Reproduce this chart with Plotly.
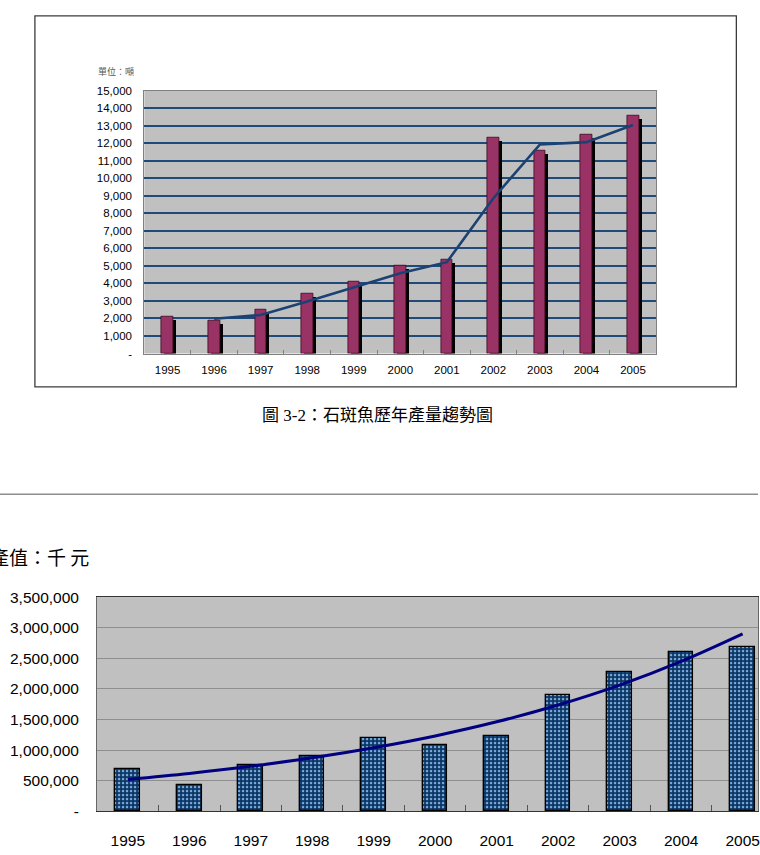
import plotly.graph_objects as go

W, H = 760, 855

def px(x):
    return x / W

def py(y):
    return 1 - y / H

# ---------------- data ----------------
years = ["1995", "1996", "1997", "1998", "1999", "2000", "2001", "2002", "2003", "2004", "2005"]

# Top chart: production (tonnes)
production = [2100, 1870, 2500, 3400, 4110, 5040, 5380, 12340, 11560, 12490, 13570]
trend_years = ["1996", "1997", "1998", "1999", "2000", "2001", "2002", "2003", "2004", "2005"]
production_trend = [1985, 2200, 2970, 3760, 4580, 5210, 8860, 11930, 12060, 13040]
prod_tickvals = [0, 1000, 2000, 3000, 4000, 5000, 6000, 7000, 8000, 9000, 10000,
                 11000, 12000, 13000, 14000, 15000]
prod_ticktext = ["-", "1,000", "2,000", "3,000", "4,000", "5,000", "6,000", "7,000",
                 "8,000", "9,000", "10,000", "11,000", "12,000", "13,000", "14,000", "15,000"]

# Bottom chart: production value (thousand NT$)
value = [699000, 427000, 752000, 903000, 1200000, 1083000, 1223000, 1900000,
         2273000, 2609000, 2689000]
value_trend = [523000, 621000, 737000, 875000, 1040000, 1233000, 1463000, 1737000,
               2062000, 2450000, 2900000]
val_tickvals = [0, 500000, 1000000, 1500000, 2000000, 2500000, 3000000, 3500000]
val_ticktext = ["-", "500,000", "1,000,000", "1,500,000", "2,000,000", "2,500,000",
                "3,000,000", "3,500,000"]

SHADOW = 170  # visual drop-shadow depth in data units

fig = go.Figure()

# ---------------- top chart ----------------
fig.add_trace(go.Bar(
    x=years, y=production, base=-SHADOW,
    width=0.25, offset=-0.125 + 0.065,
    marker=dict(color="#000000", line=dict(width=0)),
    xaxis="x", yaxis="y", showlegend=False, hoverinfo="skip"))
fig.add_trace(go.Bar(
    x=years, y=production,
    width=0.25, offset=-0.125,
    marker=dict(color="#993366", line=dict(color="#3a0a20", width=0.8)),
    xaxis="x", yaxis="y", showlegend=False))
fig.add_trace(go.Scatter(
    x=trend_years, y=production_trend, mode="lines",
    line=dict(color="#1b4272", width=2.6),
    xaxis="x", yaxis="y", showlegend=False))

# ---------------- bottom chart ----------------
fig.add_trace(go.Bar(
    x=years, y=value,
    width=0.4,
    marker=dict(
        color="#0b3563",
        line=dict(color="#000000", width=1.4),
        pattern=dict(shape=".", fgcolor="#79acdc", bgcolor="#0b3563",
                     size=4, solidity=0.3, fillmode="replace")),
    xaxis="x2", yaxis="y2", showlegend=False))
fig.add_trace(go.Scatter(
    x=years, y=value_trend, mode="lines",
    line=dict(color="#000080", width=3, shape="spline"),
    xaxis="x2", yaxis="y2", showlegend=False))

axis_font_top = dict(family="Liberation Sans, Arial, sans-serif", size=11.5, color="#000000")
axis_font_bot = dict(family="Liberation Sans, Arial, sans-serif", size=15.5, color="#000000")

fig.update_layout(
    width=W, height=H,
    margin=dict(l=0, r=0, t=0, b=0),
    paper_bgcolor="#ffffff",
    plot_bgcolor="#c0c0c0",
    barmode="overlay",
    bargap=0,
    xaxis=dict(
        domain=[px(144.7), px(658)], anchor="y", type="category",
        range=[-0.5, 10.5], tickson="boundaries", ticks="inside", ticklen=4,
        tickcolor="#808080", showline=True, linecolor="#808080", linewidth=1,
        mirror=True, showgrid=False, tickfont=axis_font_top, ticklabelstandoff=6,
        fixedrange=True),
    yaxis=dict(
        domain=[py(351.5), py(83.3)], anchor="x", range=[0, 15000],
        tickvals=prod_tickvals, ticktext=prod_ticktext,
        showgrid=True, gridcolor="#1f4a7a", gridwidth=1.5,
        showline=True, linecolor="#808080", linewidth=1, mirror=True,
        ticks="", tickfont=axis_font_top, ticklabelstandoff=9, zeroline=False,
        fixedrange=True),
    xaxis2=dict(
        domain=[px(97.3), 1.0], anchor="y2", type="category",
        range=[-0.5, 10.25], tickson="boundaries", ticks="inside", ticklen=6,
        tickcolor="#555555", showline=True, linecolor="#333333", linewidth=1.2,
        mirror=True, showgrid=False, tickfont=axis_font_bot, ticklabelstandoff=15,
        fixedrange=True),
    yaxis2=dict(
        domain=[py(818.7), py(600)], anchor="x2", range=[0, 3500000],
        tickvals=val_tickvals, ticktext=val_ticktext,
        showgrid=True, gridcolor="#8f8f8f", gridwidth=1,
        showline=True, linecolor="#666666", linewidth=1, mirror=True,
        ticks="", tickfont=axis_font_bot, ticklabelstandoff=14, zeroline=False,
        fixedrange=True),
    shapes=[
        dict(type="rect", xref="paper", yref="paper",
             x0=px(35), x1=px(738.3), y0=py(385.5), y1=py(7),
             line=dict(color="#3c3c3c", width=1.3), fillcolor="rgba(0,0,0,0)",
             layer="below"),
        dict(type="line", xref="paper", yref="paper",
             x0=0, x1=1, y0=py(495), y1=py(495),
             line=dict(color="#555555", width=1)),
    ],
    annotations=[
        dict(text="單位：噸", xref="paper", yref="paper", x=px(116.7), y=py(63.5),
             xanchor="center", yanchor="middle", showarrow=False,
             font=dict(family="Noto Sans CJK TC", size=9, color="#555555")),
        dict(text="圖 3-2：石斑魚歷年產量趨勢圖", xref="paper", yref="paper",
             x=px(378), y=py(415), xanchor="center", yanchor="middle", showarrow=False,
             font=dict(family="Liberation Serif, Noto Sans CJK TC", size=17, color="#000000")),
        dict(text="產值：千 元", xref="paper", yref="paper",
             x=px(-12), y=py(559), xanchor="left", yanchor="middle", showarrow=False,
             font=dict(family="Noto Sans CJK TC", size=19, color="#000000")),
    ],
)

fig.write_html("out.html")
